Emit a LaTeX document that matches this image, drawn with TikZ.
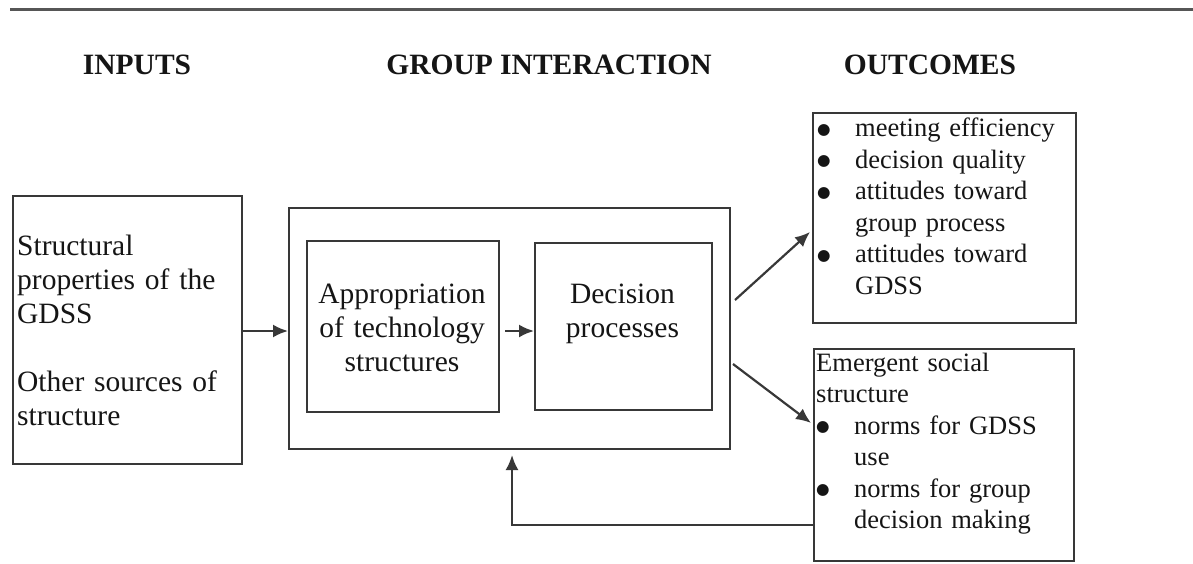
\documentclass[tikz,border=0pt]{standalone}
\usepackage{fontspec}
\setmainfont{Liberation Serif}
\newfontfamily\symfont{DejaVu Sans}
\usetikzlibrary{arrows.meta,calc}
\definecolor{ink}{HTML}{151515}
\definecolor{rulegray}{HTML}{383838}
% bullet item and continuation line for the outcome lists
\newcommand\outbullet{\raisebox{2.5pt}{\symfont\fontsize{15.5}{15.5}\selectfont ●}}
\newcommand\outitem[1]{\makebox[38pt][l]{\outbullet}#1}
\newcommand\outcont{\hspace*{38pt}}
\begin{document}
\begin{tikzpicture}[x=1pt,y=-1pt,
  box/.style={draw=rulegray, line width=2pt, inner sep=0pt, anchor=north west},
  head/.style={font=\fontsize{29.5}{34}\selectfont\bfseries, text=ink, inner sep=0pt, anchor=base},
  body/.style={font=\fontsize{29.5}{34}\selectfont, text=ink, inner sep=0pt},
  small/.style={font=\fontsize{26.5}{31.5}\selectfont, text=ink, inner sep=0pt,
    anchor=base west, align=left, text width=250pt},
  link/.style={draw=rulegray, line width=2.2pt, -{Latex[length=15pt,width=13pt]}},
]
\useasboundingbox (0,0) rectangle (1193,564);

% top rule
\draw[rulegray!85, line width=3pt] (10,10) -- (1193,10);

% column headings
\node[head] (hin)  at (137,75) {INPUTS};
\node[head] (hgi)  at (549,75) {GROUP INTERACTION};
\node[head] (hout) at (930,75) {OUTCOMES};

% boxes
\node[box, minimum width=229pt, minimum height=268pt] (in)   at (12,195)  {};
\node[box, minimum width=441pt, minimum height=241pt] (grp)  at (288,207) {};
\node[box, minimum width=192pt, minimum height=171pt] (appr) at (306,240) {};
\node[box, minimum width=177pt, minimum height=167pt] (dec)  at (534,242) {};
\node[box, minimum width=263pt, minimum height=210pt] (out)  at (812,112) {};
\node[box, minimum width=260pt, minimum height=212pt] (emg)  at (813,348) {};

% box texts
\node[body, anchor=base west, align=left, text width=224pt] (intxt) at (17,255)
  {Structural\\properties of the\\GDSS\\[34pt]Other sources of\\structure};
\node[body, anchor=base, align=center, text width=192pt] (apprtxt) at (402,303)
  {Appropriation\\of technology\\structures};
\node[body, anchor=base, align=center, text width=177pt] (dectxt) at (622.5,303)
  {Decision\\processes};
\node[small] (outtxt) at (817,137)
  {\outitem{meeting efficiency}\\\outitem{decision quality}\\\outitem{attitudes toward}\\
   \outcont group process\\\outitem{attitudes toward}\\\outcont GDSS};
\node[small] (emgtxt) at (816,371)
  {Emergent social\\structure\\\outitem{norms for GDSS}\\\outcont use\\
   \outitem{norms for group}\\\outcont decision making};

% connectors
\coordinate (mid) at (0,331);
\coordinate (upstart) at ($(grp.east |- 0,300)+(4,0)$);
\coordinate (upend) at ($(out.west |- 0,232)+(-2,0)$);
\coordinate (dnstart) at ($(grp.east |- 0,364)+(2,0)$);
\coordinate (dnend) at ($(emg.west |- 0,423)+(-2,0)$);
\coordinate (fbend) at ($(grp.south west)+(224,5)$);

\draw[link] (in.east |- mid) -- (grp.west |- mid);
\draw[link, shorten <=5pt] (appr.east |- mid) -- (dec.west |- mid);
\draw[link] (upstart) -- (upend);
\draw[link] (dnstart) -- (dnend);
\draw[link] (emg.west |- 0,525) -| (fbend);
\end{tikzpicture}
\end{document}
